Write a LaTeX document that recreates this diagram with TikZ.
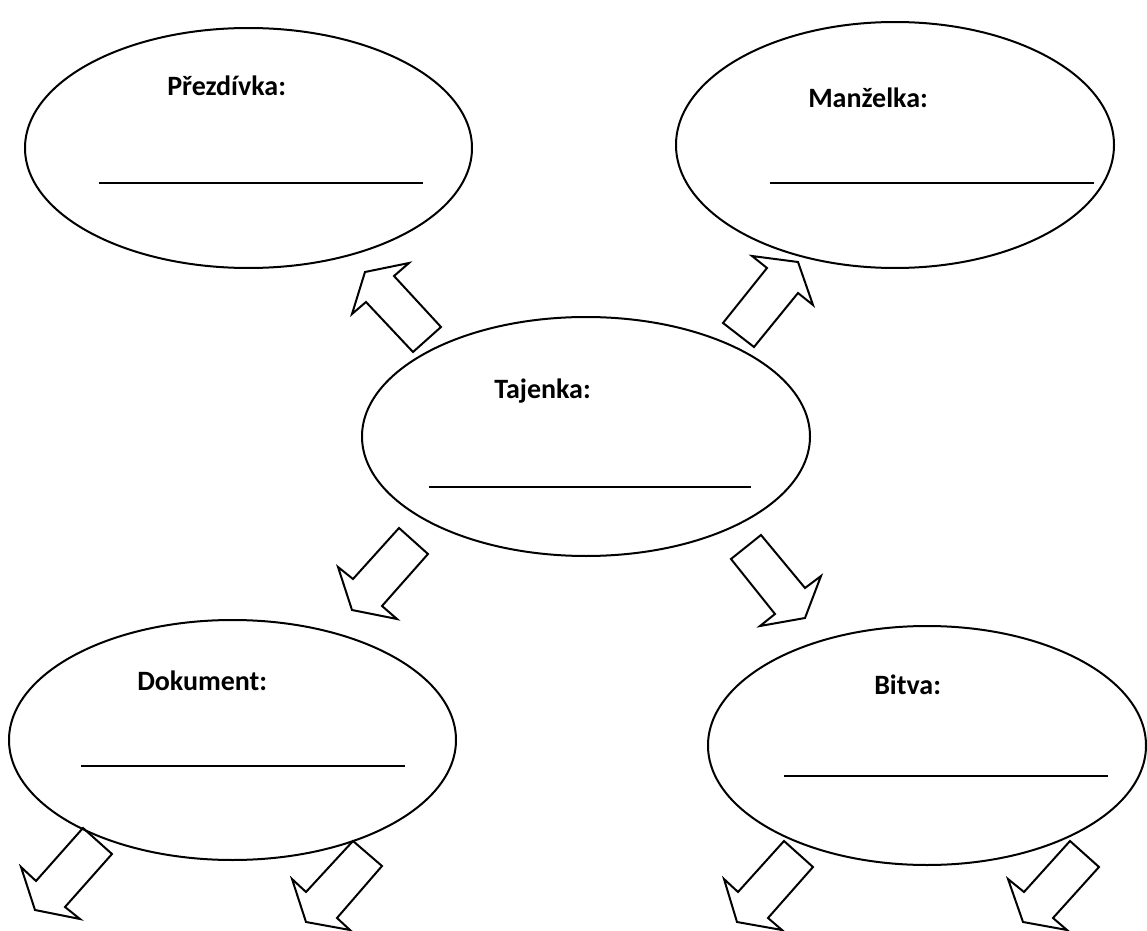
\documentclass[tikz,border=0pt]{standalone}
\usepackage{fontspec}
\setmainfont{Carlito}
\usepackage{tikz}

\tikzset{
  label text/.style={anchor=base west,inner sep=0.75pt,font=\fontsize{21}{25}\selectfont\bfseries},
  blank line/.style={line width=1.5},
  bubble/.style={line width=1.5},
  block arrow/.style={line width=1.5,line join=miter}
}

\begin{document}
\begin{tikzpicture}[x=0.75pt,y=0.75pt,yscale=-1,xscale=1]
\useasboundingbox (0,0) rectangle (1147,931);

%Shape: Ellipse [Prezdivka]
\draw [bubble] (248.5,148) ellipse (223.5 and 120);
%Shape: Ellipse [Manzelka]
\draw [bubble] (895,145) ellipse (219 and 123);
%Shape: Ellipse [Tajenka]
\draw [bubble] (586,436.5) ellipse (224 and 119.5);
%Shape: Ellipse [Dokument]
\draw [bubble] (232.5,740) ellipse (223.5 and 120);
%Shape: Ellipse [Bitva]
\draw [bubble] (927,745.5) ellipse (219 and 119.5);

%Straight Lines [blank lines]
\draw [blank line] (99,183) -- (423,183);
\draw [blank line] (770,183) -- (1094,183);
\draw [blank line] (429,487) -- (751,487);
\draw [blank line] (81,766) -- (405,766);
\draw [blank line] (784,776) -- (1108,776);

%Shape: Block Arrow [to Prezdivka]
\draw [block arrow] (413,352) -- (366,302) -- (352,314) -- (365,272) -- (409,263) -- (394,276) -- (441,327) -- cycle;
%Shape: Block Arrow [to Manzelka]
\draw [block arrow] (723,323) -- (767,268) -- (752,256) -- (798,262) -- (813,305) -- (798,293) -- (754,347) -- cycle;
%Shape: Block Arrow [to Dokument]
\draw [block arrow] (399,528) -- (353,579) -- (338,567) -- (352,610) -- (397,619) -- (382,606) -- (428,554) -- cycle;
%Shape: Block Arrow [to Bitva]
\draw [block arrow] (731,559) -- (775,614) -- (760,626) -- (805,618) -- (821,576) -- (805,588) -- (761,535) -- cycle;

%Shape: Block Arrow [from Dokument]
\draw [block arrow] (83,828) -- (36,881) -- (21,867) -- (35,910) -- (80,919) -- (65,907) -- (112,854) -- cycle;
\draw [block arrow] (353,841) -- (306,892) -- (292,879) -- (306,922) -- (350,930) -- (337,918) -- (382,866) -- cycle;
%Shape: Block Arrow [from Bitva]
\draw [block arrow] (784,841) -- (738,892) -- (724,879) -- (737,922) -- (782,930) -- (768,918) -- (813,867) -- cycle;
\draw [block arrow] (1070,841) -- (1024,892) -- (1008,879) -- (1023,922) -- (1067,930) -- (1053,918) -- (1099,867) -- cycle;

% Text Node
\node (prezdivka) [label text] at (166,96) {Přezdívka:};
% Text Node
\node (manzelka) [label text] at (807,108) {Manželka:};
% Text Node
\node (tajenka) [label text] at (493,398) {Tajenka:};
% Text Node
\node (dokument) [label text] at (136,690) {Dokument:};
% Text Node
\node (bitva) [label text] at (873,694) {Bitva:};

\end{tikzpicture}
\end{document}
